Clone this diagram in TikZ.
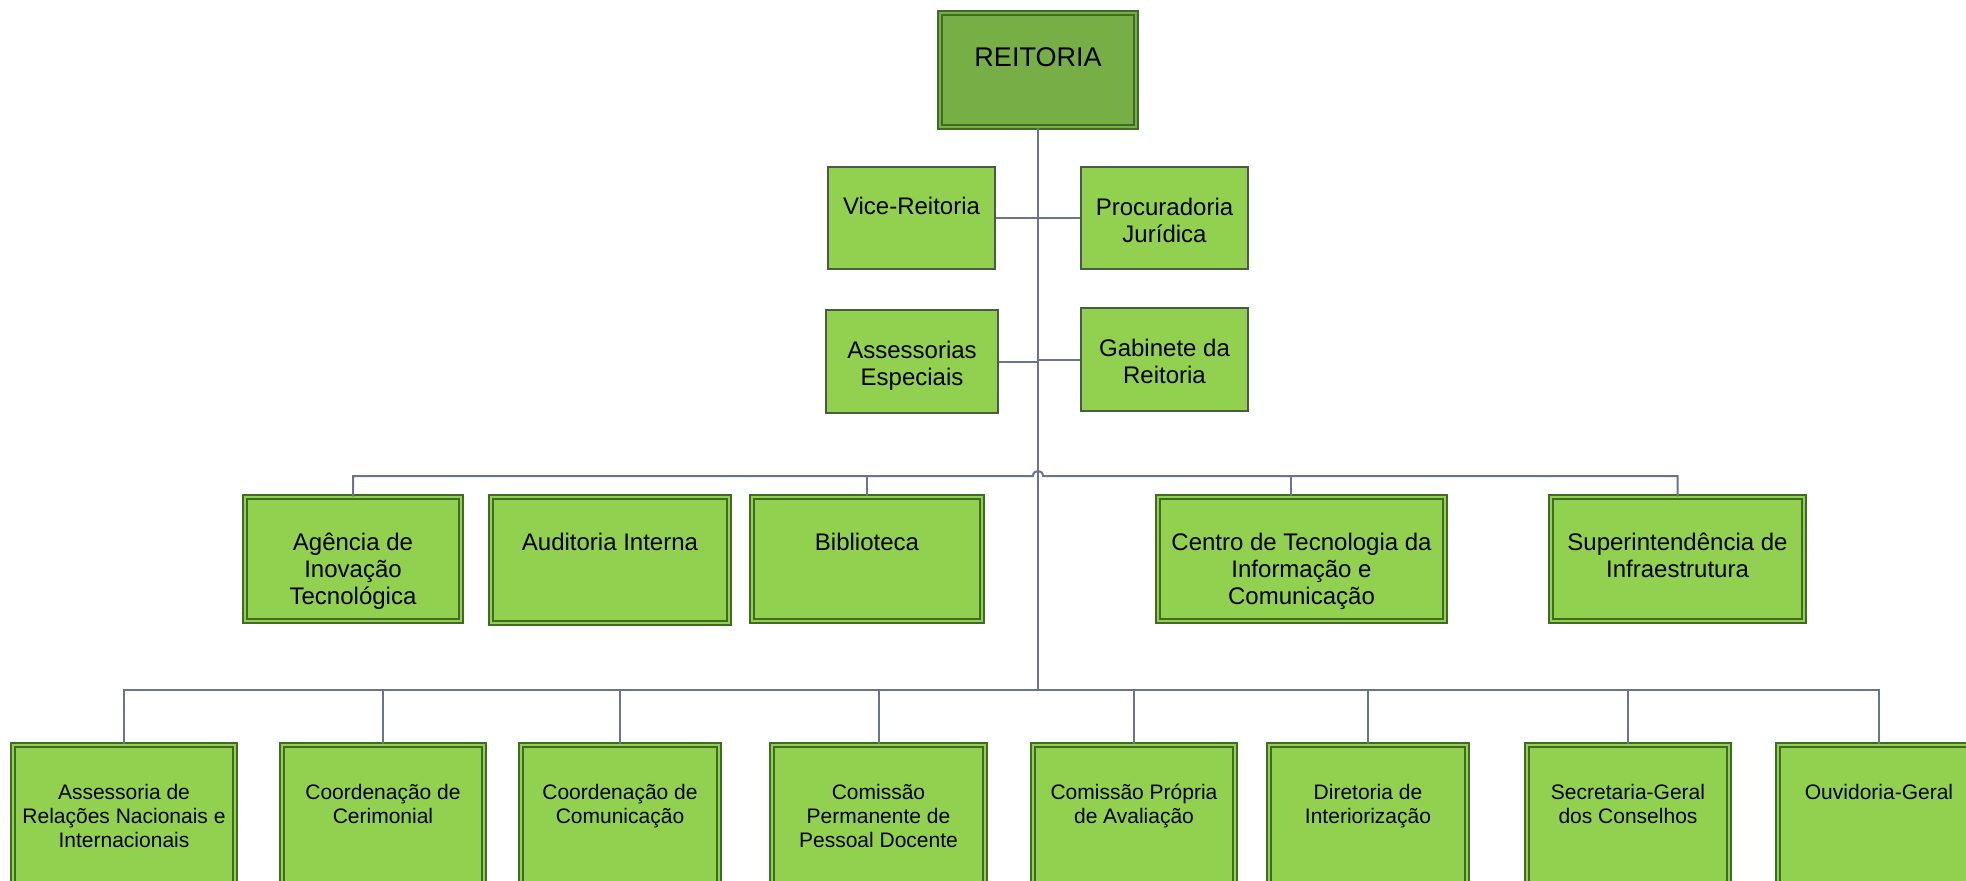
\documentclass[tikz,border=0pt]{standalone}
\usepackage{fontspec}
\setmainfont{Liberation Sans}
\usetikzlibrary{calc}
\definecolor{lgreen}{HTML}{92D050}
\definecolor{dgreen}{HTML}{77AE46}
\definecolor{bdr}{HTML}{3F6B24}
\definecolor{bdrs}{HTML}{4B5A46}
\definecolor{conn}{HTML}{6A7589}
\newcommand\mylbl[2]{\parbox[t]{#1}{\centering #2}}
\begin{document}
\begin{tikzpicture}[x=0.5pt,y=-0.5pt,
  wh/.style 2 args={minimum width=#1*0.5pt, minimum height=#2*0.5pt},
  dbox/.style={draw=bdr, line width=0.7pt, double=lgreen, double distance=1.3pt, fill=lgreen, inner sep=0pt},
  sbox/.style={draw=bdrs, line width=0.8pt, fill=lgreen, inner sep=0pt},
  lineA/.style={draw=conn, line width=1pt},
  tA/.style={anchor=base, inner sep=0pt, font=\fontsize{12pt}{13.5pt}\selectfont},
  tB/.style={anchor=base, inner sep=0pt, font=\fontsize{10.5pt}{12pt}\selectfont},
]
\useasboundingbox (0,0) rectangle (1966,880);
\fill[white] (0,0) rectangle (1966,880);
\clip (0,0) rectangle (1966,880);

% top
\node[dbox, fill=dgreen, double=dgreen, wh={196}{114}] (reit) at (1038,70) {};
\node[tA, font=\fontsize{13.5pt}{15pt}\selectfont] (treit) at (1038,66) {REITORIA};

% level 1
\node[sbox, wh={167}{102}] (vice) at (911.5,218) {};
\node[tA] (tvice) at (911.5,214) {Vice-Reitoria};
\node[sbox, wh={167}{102}] (proc) at (1164.5,218) {};
\node[tA] (tproc) at (1164.5,215) {\mylbl{80pt}{Procuradoria\\Jurídica}};
\node[sbox, wh={172}{103}] (asse) at (912,361.5) {};
\node[tA] (tasse) at (912,358) {\mylbl{80pt}{Assessorias\\Especiais}};
\node[sbox, wh={167}{103}] (gab) at (1164.5,359.5) {};
\node[tA] (tgab) at (1164.5,356) {\mylbl{80pt}{Gabinete da\\Reitoria}};

% level 2
\node[dbox, wh={216}{124}] (agen) at (353,559) {};
\node[tA] (tagen) at (353,550) {\mylbl{100pt}{Agência de\\Inovação\\Tecnológica}};
\node[dbox, wh={238}{126}] (audi) at (610,560) {};
\node[tA] (taudi) at (610,550) {Auditoria Interna};
\node[dbox, wh={230}{124}] (bibl) at (867,559) {};
\node[tA] (tbibl) at (867,550) {Biblioteca};
\node[dbox, wh={287}{124}] (cent) at (1301.5,559) {};
\node[tA] (tcent) at (1301.5,550) {\mylbl{140pt}{Centro de Tecnologia da\\Informação e\\Comunicação}};
\node[dbox, wh={253}{124}] (sup) at (1677.5,559) {};
\node[tA] (tsup) at (1677.5,550) {\mylbl{120pt}{Superintendência de\\Infraestrutura}};

% level 3
\node[dbox, wh={222}{153}] (b1) at (124,821.5) {};
\node[tB] (tb1) at (124,799) {\mylbl{110pt}{Assessoria de\\Relações Nacionais e\\Internacionais}};
\node[dbox, wh={202}{153}] (b2) at (383,821.5) {};
\node[tB] (tb2) at (383,799) {\mylbl{100pt}{Coordenação de\\Cerimonial}};
\node[dbox, wh={198}{153}] (b3) at (620,821.5) {};
\node[tB] (tb3) at (620,799) {\mylbl{100pt}{Coordenação de\\Comunicação}};
\node[dbox, wh={213}{153}] (b4) at (878.5,821.5) {};
\node[tB] (tb4) at (878.5,799) {\mylbl{100pt}{Comissão\\Permanente de\\Pessoal Docente}};
\node[dbox, wh={202}{153}] (b5) at (1134,821.5) {};
\node[tB] (tb5) at (1134,799) {\mylbl{100pt}{Comissão Própria\\de Avaliação}};
\node[dbox, wh={198}{153}] (b6) at (1368,821.5) {};
\node[tB] (tb6) at (1368,799) {\mylbl{100pt}{Diretoria de\\Interiorização}};
\node[dbox, wh={202}{153}] (b7) at (1628,821.5) {};
\node[tB] (tb7) at (1628,799) {\mylbl{100pt}{Secretaria-Geral\\dos Conselhos}};
\node[dbox, wh={202}{153}] (b8) at (1879,821.5) {};
\node[tB] (tb8) at (1879,799) {Ouvidoria-Geral};

% connectors
\coordinate (j2) at (1038,476);
\coordinate (j3) at (1038,690);
\draw[lineA] (reit.south) -- (j3);
\draw[lineA] (vice.east) -- (proc.west);
\draw[lineA] (asse.east) -- (asse.east -| j3);
\draw[lineA] (gab.west) -- (gab.west -| j3);

\draw[lineA] (agen.north) -- (agen.north |- j2) -- ($(j2)+(-5,0)$)
  .. controls ($(j2)+(-5,-6.7)$) and ($(j2)+(5,-6.7)$) .. ($(j2)+(5,0)$)
  -- (sup.north |- j2) -- (sup.north);
\draw[lineA] (bibl.north) -- (bibl.north |- j2);
\draw[lineA] ($(cent.north)+(-11,0)$) -- ($(cent.north |- j2)+(-11,0)$);

\draw[lineA] (b1.north) -- (b1.north |- j3) -- (b8.north |- j3) -- (b8.north);
\foreach \b in {b2,b3,b4,b5,b6,b7}{
  \draw[lineA] (\b.north) -- (\b.north |- j3);
}
\end{tikzpicture}
\end{document}
